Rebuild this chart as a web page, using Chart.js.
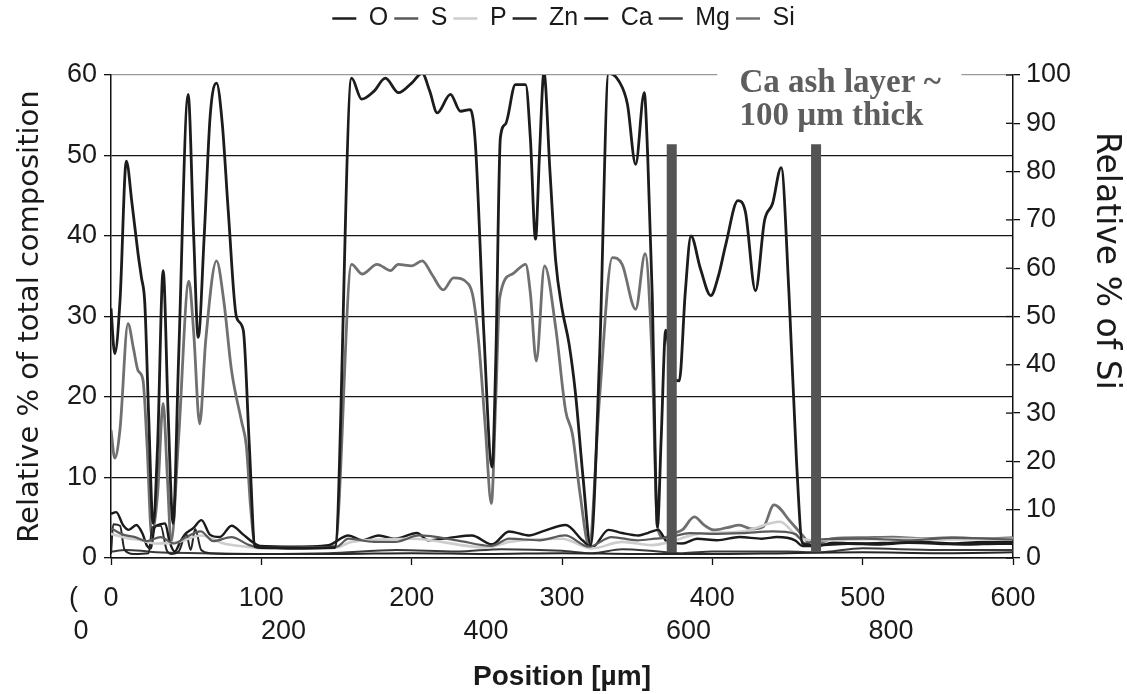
<!DOCTYPE html>
<html>
<head>
<meta charset="utf-8">
<script src="https://cdn.jsdelivr.net/npm/chart.js@4"></script>
<style>
  html, body { margin: 0; padding: 0; background: #fff; }
  #wrap { width: 1127px; height: 694px; }
</style>
</head>
<body>
<div id="wrap"><canvas id="LineChart"></canvas></div>
<script>
// [position in um, relative %]
const oxygen = [[0,31],[2.5,25.4],[6,32],[10.2,49.3],[14,44],[18,37.8],[20.2,34.9],[22.5,31.6],[25,18],[28,4.3],[31,14],[34.7,35.7],[38,18],[41.3,4.3],[45,25],[51.3,57.6],[55,40],[58,27.4],[62,40],[66,55],[70.2,59],[74,54],[78,43.1],[83.5,29.9],[88,28.3],[92,14],[95.8,1.4],[100,1.3],[120,1.2],[149,1.3],[160,59.6],[166.7,57],[175,58],[182.5,59.6],[191.3,57.8],[200,59],[207,60.2],[212,58],[217,55.3],[225.8,57.6],[232.4,55.5],[239,55.7],[242.4,51.4],[248,28],[253.5,11.3],[256,25],[259,52.2],[262.4,53.9],[269,58.8],[275.8,58.8],[279,52],[282.4,39.6],[285,50],[288,60.3],[292,48],[295.8,36.9],[300,31],[304.7,26.6],[309,20.4],[314,10],[319,1.6],[325,25],[331,60.2],[338,59.2],[343.5,56.4],[349,48.9],[354.7,57.8],[357,50],[360,32.8],[363.5,3.9],[366,15],[369,28.3],[373,23],[378,22],[382,33],[385.8,40],[392,36],[399,32.6],[404,35],[409,39],[417,44.4],[422,43],[428.7,33.2],[434.7,41.9],[440,44],[445.8,48.5],[451,32.8],[456,12],[460,1.8],[470,1.6],[490,1.8],[510,1.7],[530,1.9],[550,1.8],[570,1.7],[590,1.8],[600,1.8]];
const sulfur = [[0,3.7],[8,2.9],[16,2.6],[24,2.1],[33,2.6],[42,1.8],[50,2.6],[59.6,3.3],[68,2.1],[80,2.6],[92,1.6],[100,1.3],[150,1.4],[158,2.4],[175,2.0],[189,2.0],[205,2.8],[230,2.2],[253,1.5],[265,2.4],[285,2.2],[302,2.8],[318,1.4],[333,2.6],[350,2.2],[362,2.4],[372,2.6],[385,3.1],[400,3.0],[420,3.1],[440,3.3],[455,3.0],[462,1.8],[470,2.3],[500,2.4],[530,2.2],[560,2.5],[600,2.3]];
const phosphorus = [[0,3.0],[10,2.5],[20,2.2],[30,1.8],[45,2.0],[60,2.8],[75,1.8],[90,1.4],[100,1.2],[150,1.3],[160,2.0],[200,2.4],[250,1.3],[265,2.0],[300,2.4],[320,1.2],[340,2.0],[360,1.6],[372,2.0],[390,3.0],[420,3.3],[445,4.5],[458,2.5],[470,2.2],[520,2.4],[560,2.3],[600,2.4]];
const zinc = [[0,0.5],[1.5,4.2],[6,4.0],[9,1.0],[15,0.5],[25,0.6],[27.5,3.8],[33,4.0],[37,1.0],[40,0.5],[45,0.8],[50,3.0],[53,1.0],[56,3.6],[60,1.0],[66,0.6],[80,0.5],[100,0.5],[150,0.5],[200,0.6],[250,0.5],[300,0.6],[350,0.5],[400,0.5],[450,0.6],[500,0.7],[550,0.6],[600,0.7]];
const calcium = [[0,5.5],[3.5,5.7],[8,4.1],[11.8,3.5],[16.9,4.1],[21,3.0],[24,1.5],[26.5,1.2],[29,3.8],[33,4.2],[36,4.3],[39,2],[42.4,0.8],[46,2],[49,2.9],[54.7,3.7],[60.2,4.7],[65.8,2.9],[72.4,2.6],[80.2,4.0],[88,2.9],[94.7,1.9],[99,1.5],[120,1.4],[144.7,1.6],[158,2.8],[167,2.2],[178,2.8],[189,2.4],[203.5,3.1],[211,2.2],[225,2.5],[240,2.8],[253.5,1.7],[264.7,3.3],[278,2.8],[287,3.3],[302.4,4.1],[313.6,2.2],[320,1.3],[331,3.5],[340,3.1],[351,2.8],[357,3.1],[364,3.5],[370,2],[380,1.8],[390,2.4],[403,2.2],[418,2.6],[433,2.4],[443,2.6],[455,2.2],[460,1.5],[470,1.5],[480,1.9],[500,1.8],[520,1.9],[540,2.0],[560,1.8],[580,2.0],[600,2.0]];
const magnesium = [[0,0.8],[10,1.0],[20,0.9],[30,0.7],[60,0.6],[100,0.5],[144.7,0.6],[190,1.0],[230,0.8],[260,1.1],[300,0.9],[320,0.6],[340,1.1],[364,0.8],[380,0.6],[400,0.8],[450,0.8],[470,0.7],[500,1.2],[550,1.0],[600,1.0]];
// Si is read on the right axis (0-100)
const silicon = [[0,26.5],[2.5,20.7],[6,26.7],[11.3,48.5],[15,43.3],[18,38.8],[21.3,36.8],[24,23.3],[27,5],[31,13.3],[34.7,32],[37.5,16.7],[40,3.3],[45,25],[51.8,57.3],[55,46.7],[59,27.8],[63,45],[70.2,61.5],[75,53.3],[80.2,38.8],[86.9,28.2],[90,23.3],[93,10],[96,2.5],[120,2.2],[149,2.5],[160,60.8],[167,58.8],[177,60.8],[186,59.5],[191,60.8],[200,60.5],[207,61.5],[213.5,58.7],[221,55.5],[227.8,58],[237.8,56.7],[241,53.8],[244.7,44.3],[249,27],[253,11.3],[256,33.3],[258.5,53.8],[267,58.8],[275.8,60.8],[279,54.7],[282.9,40.8],[288.4,60.5],[295.8,47.7],[302.4,30.5],[306.9,25.7],[312,13.3],[318,2.5],[325,33.3],[333.5,62.2],[340,60.8],[349,51.5],[355.3,63],[360,40.8],[363.5,6.5],[368,4.2],[373,5],[380,5.8],[388,8.5],[395,6.7],[401,5.8],[410,6.3],[418,6.8],[426,6],[434,6.5],[441,11],[452,7.5],[461,4.3],[466,2.5],[480,4],[500,4.2],[520,4.3],[540,4],[560,4.2],[580,4],[600,4.2]];

const elements = ['O', 'S', 'P', 'Zn', 'Ca', 'Mg', 'Si'];
const positionTicks = [0, 100, 200, 300, 400, 500, 600];
const depthTicks = [0, 200, 400, 600, 800];
const ashEdges = [373, 469];   // Ca ash layer boundaries (um)
const ashTop = 51.4;
const ashNote = ['Ca ash layer ~', '100 \u00b5m thick'];
const ashNoteX = 418;

const pts = arr => arr.map(p => ({x: p[0], y: p[1]}));

const ashBars = [];
ashEdges.forEach(e => {
  ashBars.push({x: e, y: 0.7}, {x: e, y: ashTop}, {x: e + 1, y: null});
});

function series(label, arr, color, width, axis) {
  return {
    label: label,
    data: pts(arr),
    borderColor: color,
    backgroundColor: color,
    borderWidth: width,
    pointRadius: 0,
    cubicInterpolationMode: 'monotone',
    yAxisID: axis || 'y'
  };
}

const tickFont = {family: 'Liberation Sans', size: 27};

const extras = {
  id: 'extras',
  beforeInit(chart) {
    // leave room between legend and plot
    const fit = chart.legend.fit;
    chart.legend.fit = function () {
      fit.bind(chart.legend)();
      this.height += 34;
    };
  },
  afterDraw(chart) {
    const {ctx, chartArea, scales} = chart;
    const y2 = scales.y2;
    ctx.save();
    // inner half of the right axis ticks
    ctx.strokeStyle = '#111';
    ctx.lineWidth = 1.3;
    y2.ticks.forEach(t => {
      const py = y2.getPixelForValue(t.value);
      ctx.beginPath();
      ctx.moveTo(chartArea.right - 7, py);
      ctx.lineTo(chartArea.right, py);
      ctx.stroke();
    });
    // ash layer note
    const ax = scales.x.getPixelForValue(ashNoteX);
    ctx.fillStyle = '#fff';
    ctx.fillRect(ax - 22, chartArea.top - 8, 244, 56);
    ctx.fillStyle = '#5e5e5e';
    ctx.font = 'bold 33px "Liberation Serif"';
    ctx.textAlign = 'left';
    ctx.textBaseline = 'alphabetic';
    ctx.fillText(ashNote[0], ax, chartArea.top + 17);
    ctx.fillText(ashNote[1], ax, chartArea.top + 50);
    // right axis title
    ctx.translate(chart.width - 21, chartArea.top + 186);
    ctx.rotate(Math.PI / 2);
    ctx.fillStyle = '#1a1a1a';
    ctx.font = '33px "DejaVu Sans"';
    ctx.textAlign = 'center';
    ctx.textBaseline = 'middle';
    ctx.fillText('Relative % of Si', 0, 0);
    ctx.restore();
  }
};

const data = {
  datasets: [
    series(elements[0], oxygen, '#1c1c1c', 2.8),
    series(elements[1], sulfur, '#5a5a5a', 2.2),
    series(elements[2], phosphorus, '#cdcdcd', 2.6),
    series(elements[3], zinc, '#262626', 2),
    series(elements[4], calcium, '#1a1a1a', 2.4),
    series(elements[5], magnesium, '#3a3a3a', 2),
    series(elements[6], silicon, '#707070', 2.8, 'y2'),
    {
      label: '',
      data: ashBars,
      borderColor: '#545454',
      backgroundColor: '#545454',
      borderWidth: 10,
      borderCapStyle: 'butt',
      pointRadius: 0,
      tension: 0,
      spanGaps: false,
      order: -1,
      yAxisID: 'y'
    }
  ]
};

const config = {
  type: 'line',
  data: data,
  plugins: [extras],
  options: {
    responsive: true,
    maintainAspectRatio: false,
    animation: false,
    layout: {padding: {top: 0, right: 0, bottom: 0, left: 0}},
    plugins: {
      tooltip: {enabled: false},
      legend: {
        position: 'top',
        labels: {
          font: {family: 'Liberation Sans', size: 25},
          color: '#1a1a1a',
          boxWidth: 24,
          boxHeight: 2.5,
          padding: 6,
          filter: item => item.text !== '',
          generateLabels: chart => Chart.defaults.plugins.legend.labels.generateLabels(chart)
            .map(l => Object.assign(l, {lineWidth: 0}))
        }
      }
    },
    scales: {
      x: {
        type: 'linear',
        position: 'bottom',
        weight: 0,
        min: 0,
        max: 600,
        afterBuildTicks: s => { s.ticks = [-25].concat(positionTicks).map(v => ({value: v})); },
        afterFit: s => { s.height = 54; },
        ticks: {
          font: tickFont,
          color: '#1a1a1a',
          padding: 17,
          maxRotation: 0,
          autoSkip: false,
          callback: v => (v < 0 ? '(' : v)
        },
        grid: {
          drawOnChartArea: false,
          tickLength: 7,
          tickColor: c => (c.tick && c.tick.value < 0 ? 'rgba(0,0,0,0)' : '#111'),
          tickWidth: 1.3
        },
        border: {color: '#111', width: 1.5}
      },
      x2: {
        type: 'linear',
        position: 'bottom',
        weight: 1,
        min: 29.6,
        max: 920.5,
        afterBuildTicks: s => { s.ticks = depthTicks.map(v => ({value: v})); },
        afterFit: s => { s.height = 82; },
        ticks: {
          font: tickFont,
          color: '#1a1a1a',
          padding: 3,
          maxRotation: 0,
          autoSkip: false
        },
        grid: {display: false, drawTicks: false},
        border: {display: false},
        title: {
          display: true,
          text: 'Position [\u00b5m]',
          font: {family: 'Liberation Sans', size: 28, weight: 'bold'},
          color: '#1a1a1a',
          padding: {top: 1, bottom: 0}
        }
      },
      y: {
        position: 'left',
        min: 0,
        max: 60,
        afterFit: s => { s.width = 111; },
        ticks: {stepSize: 10, font: tickFont, color: '#1a1a1a', padding: 7},
        grid: {
          color: c => (c.tick && c.tick.value === 60 ? '#9a9a9a' : '#151515'),
          lineWidth: 1.3,
          tickLength: 7,
          tickColor: '#111'
        },
        border: {color: '#111', width: 1.5},
        title: {
          display: true,
          text: 'Relative % of total composition',
          font: {family: 'DejaVu Sans', size: 29},
          color: '#1a1a1a',
          padding: {top: 13, bottom: 0}
        }
      },
      y2: {
        position: 'right',
        min: 0,
        max: 100,
        afterFit: s => { s.width = 114; },
        ticks: {stepSize: 10, font: tickFont, color: '#1a1a1a', padding: 6},
        grid: {drawOnChartArea: false, tickLength: 7, tickColor: '#111', lineWidth: 1.3},
        border: {color: '#111', width: 1.5}
      }
    }
  }
};

new Chart(document.getElementById('LineChart'), config);
</script>
</body>
</html>
